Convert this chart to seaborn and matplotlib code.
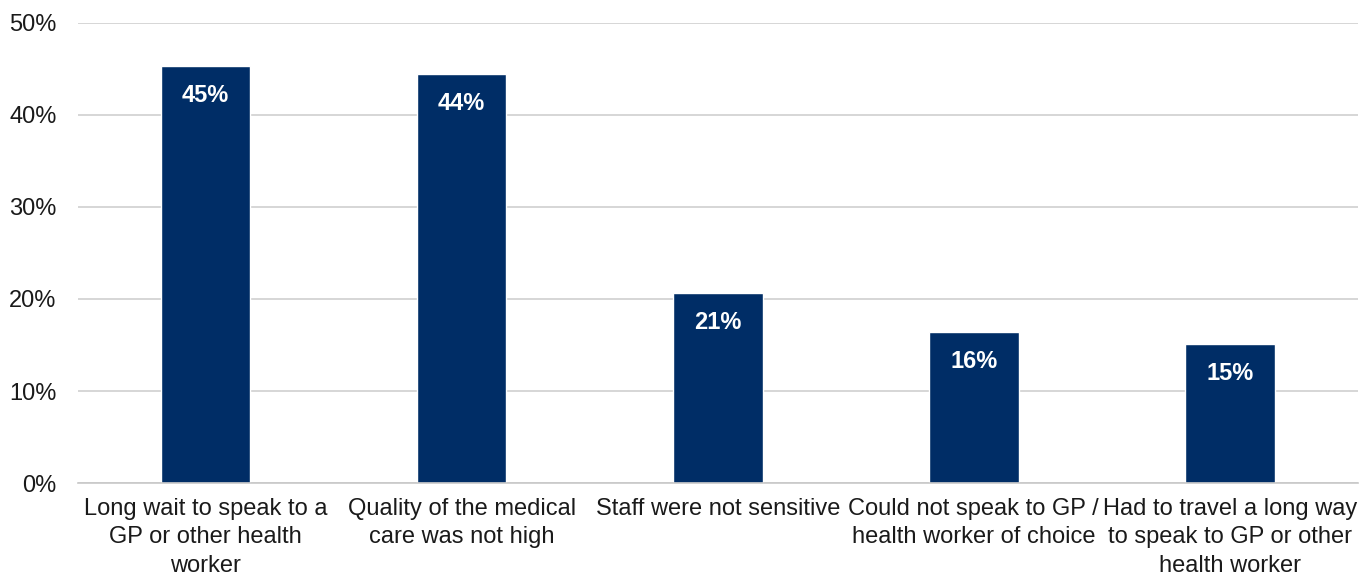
import matplotlib
matplotlib.use("Agg")
import matplotlib.pyplot as plt
import seaborn as sns
import pandas as pd

categories = [
    "Long wait to speak to a\nGP or other health\nworker",
    "Quality of the medical\ncare was not high",
    "Staff were not sensitive",
    "Could not speak to GP /\nhealth worker of choice",
    "Had to travel a long way\nto speak to GP or other\nhealth worker",
]
values = [45.3, 44.4, 20.6, 16.4, 15.1]
labels = ["45%", "44%", "21%", "16%", "15%"]
yticks = [0, 10, 20, 30, 40, 50]

sns.set_theme(style="white")
plt.rcParams['font.family'] = ['Liberation Sans', 'DejaVu Sans']

text_color = "#1A1A1A"
df = pd.DataFrame({"cat": categories, "val": values})
fig = plt.figure(figsize=(13.6, 5.74), dpi=100)
ax = fig.add_axes([0.057, 0.1585, 0.9415, 0.8015])
sns.barplot(data=df, x="cat", y="val", color="#002D66", width=0.35, ax=ax, saturation=1)
ax.set_ylim(0, 50)
ax.set_xlim(-0.5, len(categories) - 0.5)
ax.set_yticks(yticks)
ax.set_yticklabels([f"{t}%" for t in yticks], fontsize=17, color=text_color)
ax.tick_params(axis='x', labelsize=17, colors=text_color, length=0, pad=11)
ax.tick_params(axis='y', length=0, pad=15)
ax.set_xlabel("")
ax.set_ylabel("")
ax.yaxis.grid(True, color="#D0D0D0", linewidth=1.2)
ax.set_axisbelow(True)
for s in ["top", "right", "left"]:
    ax.spines[s].set_visible(False)
ax.spines["bottom"].set_color("#C8C8C8")
ax.spines["bottom"].set_linewidth(1.2)
for p, lab in zip(ax.patches, labels):
    ax.text(p.get_x() + p.get_width() / 2, p.get_height() - 1.9, lab,
            ha="center", va="top", color="white", fontsize=17, fontweight="bold")
for t in ax.get_xticklabels():
    t.set_color(text_color)
    t.set_linespacing(1.36)
fig.savefig("out.png", dpi=100)
